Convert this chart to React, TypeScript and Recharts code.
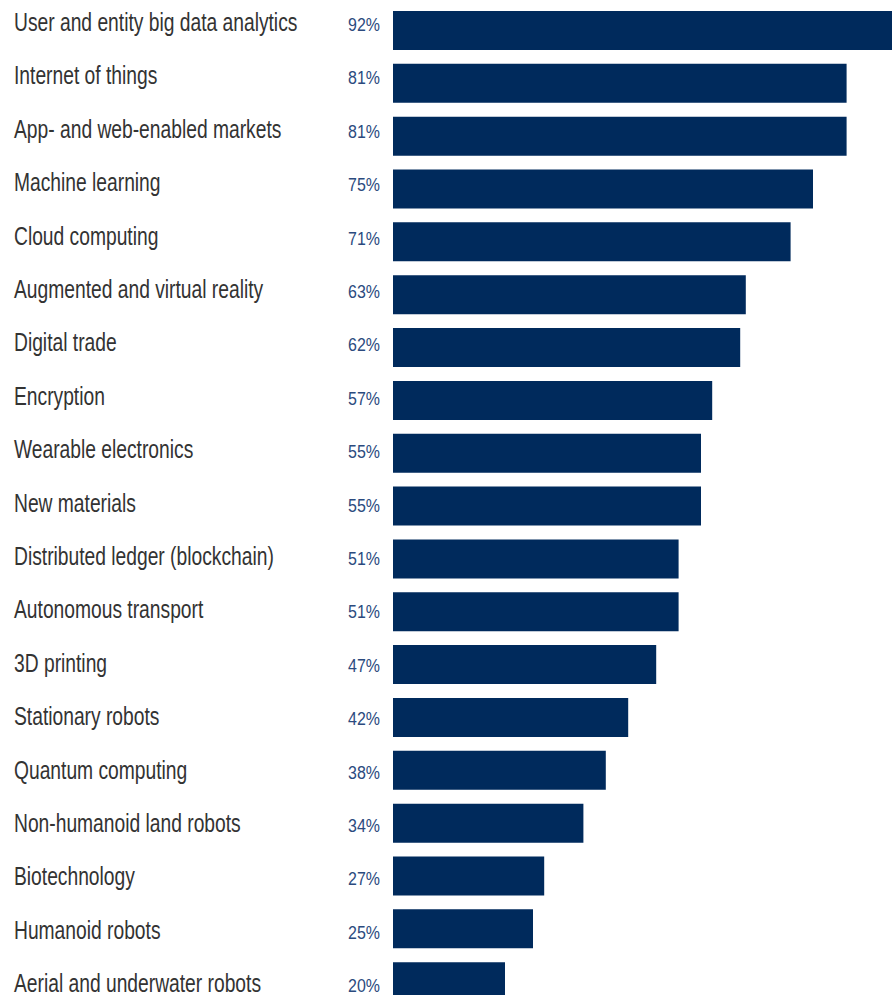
import { BarChart, Bar, XAxis, YAxis, Cell } from "recharts";

const categories = [
  "User and entity big data analytics",
  "Internet of things",
  "App- and web-enabled markets",
  "Machine learning",
  "Cloud computing",
  "Augmented and virtual reality",
  "Digital trade",
  "Encryption",
  "Wearable electronics",
  "New materials",
  "Distributed ledger (blockchain)",
  "Autonomous transport",
  "3D printing",
  "Stationary robots",
  "Quantum computing",
  "Non-humanoid land robots",
  "Biotechnology",
  "Humanoid robots",
  "Aerial and underwater robots",
];

const shares = [92, 81, 81, 75, 71, 63, 62, 57, 55, 55, 51, 51, 47, 42, 38, 34, 27, 25, 20];

const data = categories.map((name, i) => ({ name, share: shares[i] }));

const BAR = "#002a5c";
// no condensed face installed, so squeeze Liberation Sans horizontally
const FONT = '"Liberation Sans", Arial, sans-serif';

// category name on the left, percentage right-aligned next to the bar
const RowTick = (props: any) => {
  const { y, payload, index } = props;
  const base = y + 0.6 + index * 0.55;
  return (
    <g>
      <text
        transform={`translate(14, ${base}) scale(0.77, 1)`}
        textAnchor="start"
        fill="#333333"
        fontSize={25}
        fontFamily={FONT}
      >
        {payload.value}
      </text>
      <text
        transform={`translate(380, ${base}) scale(0.84, 1)`}
        textAnchor="end"
        fill="#2b4a7e"
        fontSize={19}
        fontFamily={FONT}
      >
        {shares[index]}%
      </text>
    </g>
  );
};

export default function App() {
  return (
    <div
      style={{
        position: "absolute",
        left: 0,
        top: 0,
        width: 892,
        height: 995,
        overflow: "hidden",
        background: "#fff",
      }}
    >
      <BarChart
        width={953}
        height={1012}
        data={data}
        layout="vertical"
        barCategoryGap={14}
        margin={{ top: 4, right: 0, bottom: 4, left: 0 }}
      >
        <XAxis type="number" domain={[0, 100]} hide />
        <YAxis
          type="category"
          dataKey="name"
          width={393}
          axisLine={false}
          tickLine={false}
          interval={0}
          tick={<RowTick />}
        />
        <Bar dataKey="share" barSize={39} isAnimationActive={false}>
          {data.map((d) => (
            <Cell key={d.name} fill={BAR} />
          ))}
        </Bar>
      </BarChart>
    </div>
  );
}
